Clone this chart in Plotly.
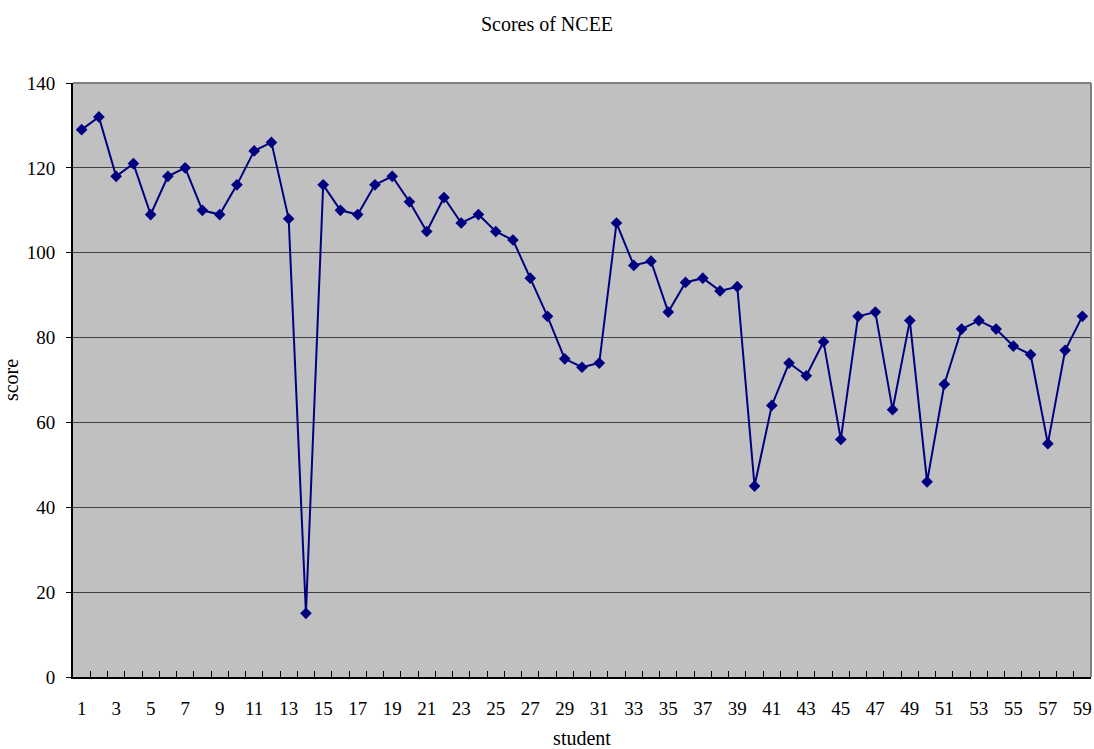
import plotly.graph_objects as go

students = list(range(1, 60))
scores = [129, 132, 118, 121, 109, 118, 120, 110, 109, 116,
          124, 126, 108, 15, 116, 110, 109, 116, 118, 112,
          105, 113, 107, 109, 105, 103, 94, 85, 75, 73,
          74, 107, 97, 98, 86, 93, 94, 91, 92, 45,
          64, 74, 71, 79, 56, 85, 86, 63, 84, 46,
          69, 82, 84, 82, 78, 76, 55, 77, 85]
label_students = [s for s in students if s % 2 == 1]
boundaries = [s - 0.5 for s in students] + [students[-1] + 0.5]
y_ticks = [0, 20, 40, 60, 80, 100, 120, 140]

FONT = "Liberation Serif"

fig = go.Figure()
fig.add_trace(go.Scatter(
    x=students, y=scores, mode="lines+markers",
    line=dict(color="#000080", width=2),
    marker=dict(symbol="diamond", size=9, color="#000080"),
    showlegend=False,
))

fig.update_layout(
    width=1094, height=749,
    paper_bgcolor="white", plot_bgcolor="#C0C0C0",
    margin=dict(l=73, r=3, t=83, b=72, autoexpand=False),
    title=dict(text="Scores of NCEE", x=0.5, xanchor="center", y=0.968, yanchor="middle",
               font=dict(family=FONT, size=20, color="black"), automargin=False),
    font=dict(family=FONT, color="black"),
)

fig.update_xaxes(
    range=[boundaries[0], boundaries[-1]],
    tickmode="array", tickvals=label_students, ticktext=[str(s) for s in label_students],
    ticks="inside", ticklen=0, tickangle=0,
    minor=dict(tickmode="array", tickvals=boundaries, ticks="inside", ticklen=6,
               tickcolor="black", tickwidth=1, showgrid=False),
    showgrid=False, showline=True, linecolor="black", linewidth=2,
    tickfont=dict(family=FONT, size=19), ticklabelstandoff=13,
    title=dict(text="student", font=dict(family=FONT, size=20), standoff=18),
    zeroline=False, automargin=False,
)
fig.update_yaxes(
    range=[0, 140], tickmode="array", tickvals=y_ticks,
    ticks="outside", ticklen=5, tickcolor="black",
    showgrid=True, gridcolor="#404040", gridwidth=1,
    showline=True, linecolor="black", linewidth=2,
    tickfont=dict(family=FONT, size=19), ticklabelstandoff=7,
    title=dict(text="score", font=dict(family=FONT, size=20), standoff=4),
    zeroline=False, automargin=False,
)

# top and right gray border of plot area
fig.add_shape(type="line", xref="paper", yref="paper", x0=0, x1=1, y0=1, y1=1,
              line=dict(color="#808080", width=2))
fig.add_shape(type="line", xref="paper", yref="paper", x0=1, x1=1, y0=0, y1=1,
              line=dict(color="#808080", width=2))

fig.write_html("out.html", config={"displayModeBar": False},
               post_script="document.body.style.margin='0';document.body.style.overflow='hidden';")
